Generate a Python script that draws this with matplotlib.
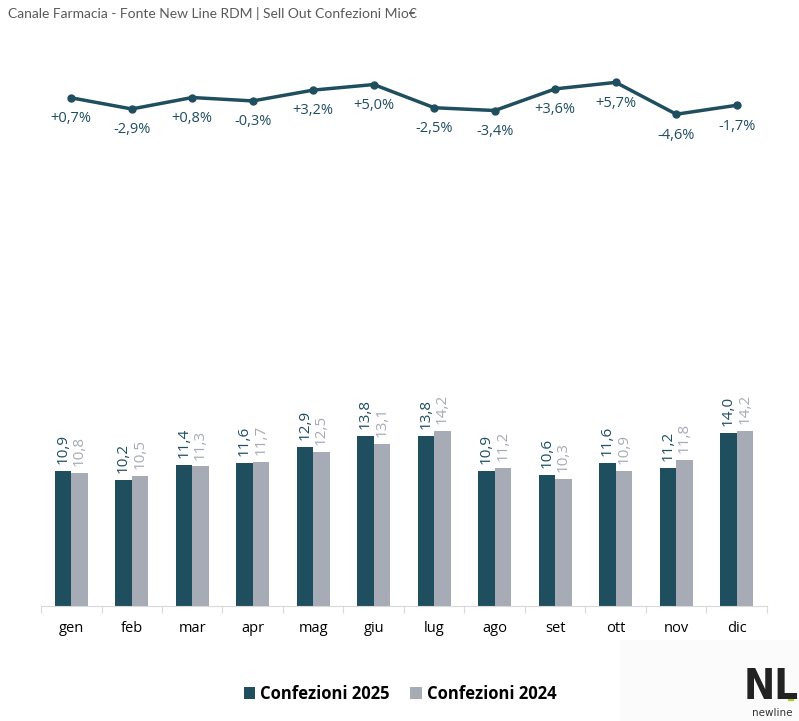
import matplotlib
matplotlib.use("Agg")
import matplotlib.pyplot as plt
import numpy as np
from matplotlib.patches import Rectangle

plt.rcParams["font.family"] = ["Open Sans", "DejaVu Sans"]

months = ["gen", "feb", "mar", "apr", "mag", "giu", "lug", "ago", "set", "ott", "nov", "dic"]
conf_2025 = [10.9, 10.2, 11.4, 11.6, 12.9, 13.8, 13.8, 10.9, 10.6, 11.6, 11.2, 14.0]
conf_2024 = [10.8, 10.5, 11.3, 11.7, 12.5, 13.1, 14.2, 11.2, 10.3, 10.9, 11.8, 14.2]
var_pct = [0.7, -2.9, 0.8, -0.3, 3.2, 5.0, -2.5, -3.4, 3.6, 5.7, -4.6, -1.7]

DARK = "#1F4E5F"
GREY = "#A6ABB6"
W, H = 799, 721

fig = plt.figure(figsize=(W / 100, H / 100), dpi=100)

def px_axes(x0, y0, x1, y1):
    # axes from pixel coords (top-left origin)
    return fig.add_axes([x0 / W, 1 - y1 / H, (x1 - x0) / W, (y1 - y0) / H])

x = np.arange(len(months))

# faint background box behind logo
fig.patches.append(Rectangle((620 / W, 0), 1 - 620 / W, 1 - 640 / H,
                             transform=fig.transFigure, color="#FBFBFB", zorder=0))

# bars
ax = px_axes(41, 160, 767, 606)
bw = 0.27
b1 = ax.bar(x - bw / 2, conf_2025, bw, color=DARK, label="Confezioni 2025")
b2 = ax.bar(x + bw / 2, conf_2024, bw, color=GREY, label="Confezioni 2024")
ax.set_xlim(-0.5, len(months) - 0.5)
ax.set_ylim(0, 446 / 12.35)
for bars, vals, col in [(b1, conf_2025, DARK), (b2, conf_2024, GREY)]:
    for r, v in zip(bars, vals):
        ax.annotate(f"{v:.1f}".replace(".", ","), (r.get_x() + r.get_width() / 2, v),
                    xytext=(0, 5), textcoords="offset points", rotation=90,
                    ha="center", va="bottom", color=col, fontsize=11)
for s in ["top", "right", "left"]:
    ax.spines[s].set_visible(False)
ax.spines["bottom"].set_color("#D9D9D9")
ax.set_yticks([])
ax.set_xticks(np.arange(-0.5, len(months), 1))
ax.set_xticklabels([])
ax.tick_params(axis="x", length=5, color="#D9D9D9")
for i, m in enumerate(months):
    ax.text(i, -0.05, m, transform=ax.get_xaxis_transform(), ha="center", va="center",
            fontsize=10.5, color="black")
ax.patch.set_alpha(0)

# variation line
ax2 = px_axes(41, 40, 767, 160)
ax2.plot(x, var_pct, color=DARK, lw=2.5, marker="o", ms=5)
ax2.set_xlim(-0.5, len(months) - 0.5)
ax2.set_ylim(-19.4, 19.4)
ax2.axis("off")
for i, v in enumerate(var_pct):
    lab = (f"+{v:.1f}%" if v >= 0 else f"{v:.1f}%").replace(".", ",")
    ax2.annotate(lab, (i, v), xytext=(0, -15), textcoords="offset points",
                 ha="center", va="center", color=DARK, fontsize=10.5)

fig.text(8 / W, 1 - 14 / H, "Canale Farmacia - Fonte New Line RDM | Sell Out Confezioni Mio€",
         fontsize=10, color="#595959", va="center", ha="left", family=["Lato", "DejaVu Sans"])

fig.legend(handles=[b1, b2], loc="center", bbox_to_anchor=(400 / W, 1 - 694 / H), ncol=2,
           frameon=False, prop={"weight": "bold", "size": 12}, handlelength=0.7,
           handleheight=0.7, handletextpad=0.3, columnspacing=1.2)

# logo
fig.text(771 / W, 1 - 687 / H, "NL", fontsize=30, weight="bold", color="#222222",
         ha="center", va="center", stretch="condensed",
         family=["Liberation Sans Narrow", "DejaVu Sans"])
fig.patches.append(Rectangle((788 / W, 1 - 700 / H), 5 / W, 5 / H,
                             transform=fig.transFigure, color="#B5C72E"))
fig.text(772 / W, 1 - 713 / H, "newline", fontsize=7.5, color="#333333",
         ha="center", va="center", family=["Liberation Sans Narrow", "DejaVu Sans"])

fig.savefig("out.png", dpi=100)
